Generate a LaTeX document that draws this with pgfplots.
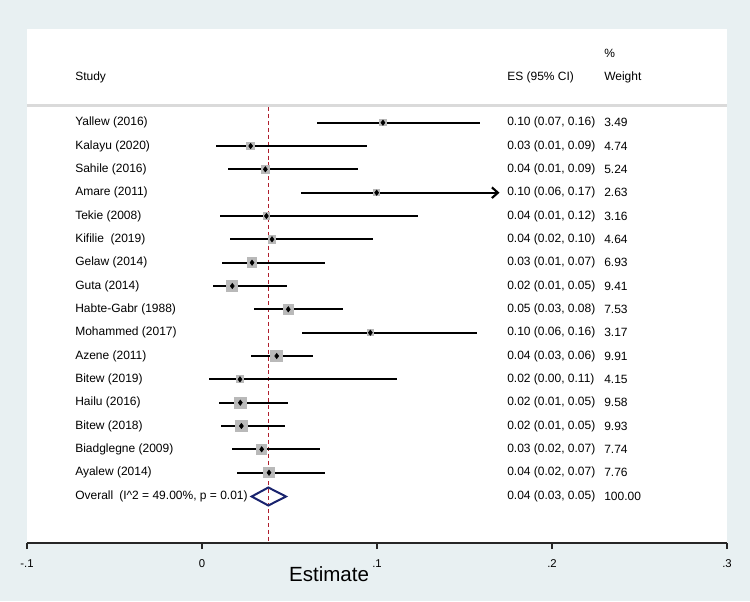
\documentclass[border=0pt]{standalone}
\usepackage{pgfplots}
\pgfplotsset{compat=1.18}
\usepackage{pgfplotstable}
\usepackage{fontspec}
\setmainfont{Liberation Sans}
\usetikzlibrary{arrows.meta}
\definecolor{bgc}{RGB}{232,240,242}
\definecolor{boxc}{RGB}{185,185,185}
\definecolor{navyc}{RGB}{25,35,110}
\definecolor{redc}{RGB}{175,30,45}
\definecolor{sepc}{RGB}{218,218,218}

% y = row position (negative pixel row), es, lower, upper, weight
\pgfplotstableread{
y es lo hi w
-122.7 0.1034 0.0655 0.1590 3.49
-146.0 0.0278 0.0080 0.0945 4.74
-169.3 0.0362 0.0147 0.0889 5.24
-192.7 0.0998 0.0566 0.1707 2.63
-216.0 0.0368 0.0103 0.1232 3.16
-239.3 0.0400 0.0158 0.0979 4.64
-262.7 0.0286 0.0112 0.0703 6.93
-286.0 0.0173 0.0065 0.0487 9.41
-309.3 0.0493 0.0297 0.0808 7.53
-332.7 0.0962 0.0573 0.1571 3.17
-356.0 0.0427 0.0278 0.0636 9.91
-379.3 0.0217 0.0042 0.1112 4.15
-402.7 0.0219 0.0097 0.0493 9.58
-426.0 0.0225 0.0107 0.0476 9.93
-449.3 0.0341 0.0170 0.0674 7.74
-472.7 0.0383 0.0202 0.0703 7.76
}\studies

\newcommand{\rowfont}{\fontsize{9}{11}\selectfont}
\newcommand{\LX}{-0.07257}
\newcommand{\EX}{0.17429}
\newcommand{\WX}{0.22971}
\tikzset{rowtxt/.style={anchor=west, inner sep=0pt, font=\rowfont}}
\newcommand{\row}[4]{%
  \node[rowtxt] at (axis cs:\LX,#1) {#2};
  \node[rowtxt] at (axis cs:\EX,#1) {#3};
  \node[rowtxt] at (axis cs:\WX,#1) {#4};}

\begin{document}
\begin{tikzpicture}
\fill[bgc] (-20.25pt,-43.5pt) rectangle (542.25pt,407.25pt);
\fill[white] (0pt,0pt) rectangle (525pt,385.5pt);
\begin{axis}[
  at={(0pt,0pt)}, anchor=south west,
  scale only axis, width=525pt, height=385.5pt,
  xmin=-0.1, xmax=0.3, ymin=-543, ymax=-29,
  axis x line*=bottom, axis y line=none,
  clip=false,
  xtick={-0.1,0,0.1,0.2,0.3},
  xticklabels={-.1,0,.1,.2,.3},
  minor xtick={},
  tick align=outside,
  major tick length=4.5pt,
  x axis line style={line width=1.1pt, black!85},
  xtick style={line width=0.9pt, black!85},
  xticklabel style={font=\fontsize{8.5}{10}\selectfont, yshift=-4.5pt},
  /pgf/number format/assume math mode=true,
]
% separator line
\addplot[sepc, line width=1.6pt, forget plot] coordinates {(-0.1,-105.5) (0.3,-105.5)};
% dashed overall line
\addplot[redc, line width=0.8pt, dash pattern=on 3pt off 2.2pt, forget plot] coordinates {(0.0379,-107) (0.0379,-543)};
% weight boxes (area proportional to weight)
\addplot[draw=none, mark=none,
  visualization depends on={3.0*sqrt(\thisrow{w}) \as \bsz},
  nodes near coords={},
  every node near coord/.append style={anchor=center, shape=rectangle,
     fill=boxc, draw=none, inner sep=0pt, outer sep=0pt,
     minimum width=\bsz pt, minimum height=\bsz pt}]
  table[x=es, y=y] {\studies};
% confidence intervals (all but Amare)
\addplot[draw=none, mark=none,
  error bars/.cd, x dir=both, x explicit, error mark=none,
  error bar style={line width=1.6pt, black}]
  table[x=es, y=y,
        x error plus expr=\thisrow{hi}-\thisrow{es},
        x error minus expr=\thisrow{es}-\thisrow{lo},
        skip coords between index={3}{4}] {\studies};
% Amare CI with arrow
\addplot[black, line width=1.6pt, -{Straight Barb[length=4.5pt,width=8pt]}] coordinates {(0.0566,-192.7) (0.1700,-192.7)};
% point estimates
\addplot[only marks, mark=diamond*, mark size=2pt, black] table[x=es, y=y] {\studies};
% overall diamond
\addplot[navyc, line width=1.5pt, fill=white, line join=miter] coordinates {(0.0284,-496.5) (0.0379,-487.5) (0.0480,-496.5) (0.0379,-505.5) (0.0284,-496.5)} -- cycle;
\addplot[redc, line width=0.8pt, dash pattern=on 3pt off 2.2pt, forget plot] coordinates {(0.0379,-489) (0.0379,-504)};

% headers
\node[rowtxt] at (axis cs:\LX,-77) {Study};
\node[rowtxt] at (axis cs:\EX,-77) {ES (95\% CI)};
\node[rowtxt] at (axis cs:\WX,-77) {Weight};
\node[rowtxt] at (axis cs:\WX,-53) {\%};

\row{-122.7}{Yallew (2016)}{0.10 (0.07, 0.16)}{3.49}
\row{-146.0}{Kalayu (2020)}{0.03 (0.01, 0.09)}{4.74}
\row{-169.3}{Sahile (2016)}{0.04 (0.01, 0.09)}{5.24}
\row{-192.7}{Amare (2011)}{0.10 (0.06, 0.17)}{2.63}
\row{-216.0}{Tekie (2008)}{0.04 (0.01, 0.12)}{3.16}
\row{-239.3}{Kifilie\ \ (2019)}{0.04 (0.02, 0.10)}{4.64}
\row{-262.7}{Gelaw (2014)}{0.03 (0.01, 0.07)}{6.93}
\row{-286.0}{Guta (2014)}{0.02 (0.01, 0.05)}{9.41}
\row{-309.3}{Habte-Gabr (1988)}{0.05 (0.03, 0.08)}{7.53}
\row{-332.7}{Mohammed (2017)}{0.10 (0.06, 0.16)}{3.17}
\row{-356.0}{Azene (2011)}{0.04 (0.03, 0.06)}{9.91}
\row{-379.3}{Bitew (2019)}{0.02 (0.00, 0.11)}{4.15}
\row{-402.7}{Hailu (2016)}{0.02 (0.01, 0.05)}{9.58}
\row{-426.0}{Bitew (2018)}{0.02 (0.01, 0.05)}{9.93}
\row{-449.3}{Biadglegne (2009)}{0.03 (0.02, 0.07)}{7.74}
\row{-472.7}{Ayalew (2014)}{0.04 (0.02, 0.07)}{7.76}
\row{-496.0}{Overall\hspace{4.5pt}(I\^{}2 = 49.00\%, p = 0.01)}{0.04 (0.03, 0.05)}{100.00}

% x title
\node[anchor=center, font=\fontsize{15.4}{18}\selectfont] at (axis cs:0.0726,-574.5) {Estimate};
\end{axis}
\end{tikzpicture}
\end{document}
